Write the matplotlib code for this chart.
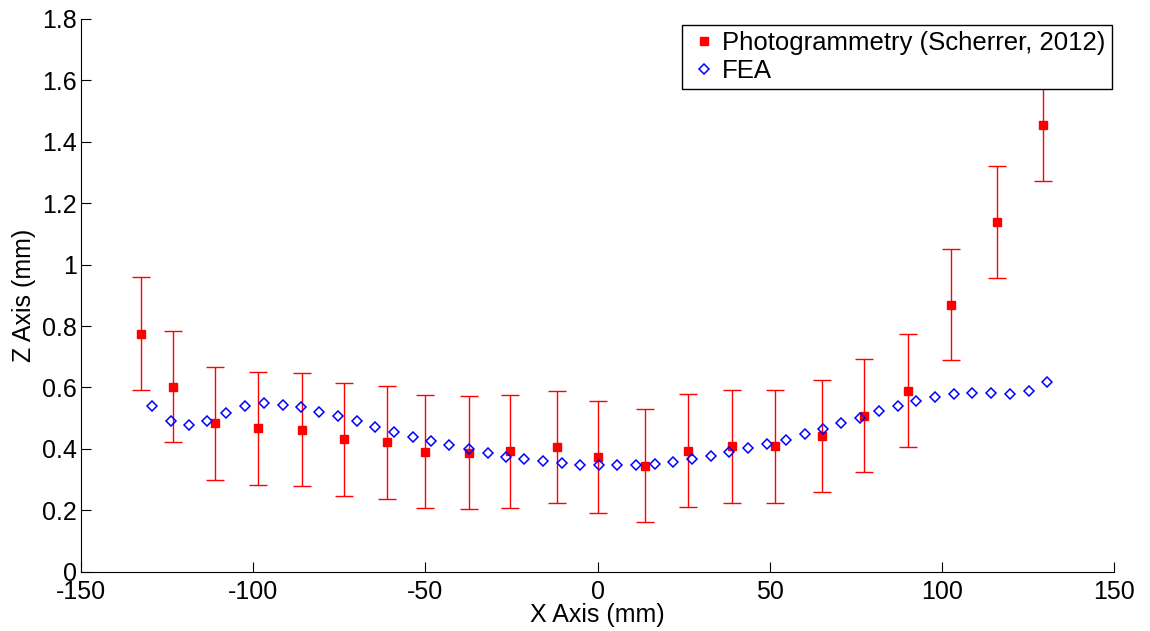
import matplotlib
matplotlib.use("Agg")
from matplotlib import pyplot as plt

# Photogrammetry (Scherrer, 2012): x position, z displacement, error half-width
photo_x = [-132.4, -123.1, -111.0, -98.5, -85.9, -73.6, -61.1, -50.0, -37.2, -25.5, -11.9,
           0.1, 13.7, 26.1, 39.1, 51.4, 65.1, 77.2, 90.0, 102.6, 116.0, 129.3]
photo_z = [0.775, 0.603, 0.483, 0.467, 0.463, 0.431, 0.421, 0.390, 0.388, 0.392, 0.406,
           0.373, 0.345, 0.394, 0.408, 0.408, 0.442, 0.507, 0.590, 0.870, 1.139, 1.454]
photo_err = [0.184, 0.182, 0.183, 0.184, 0.183, 0.183, 0.183, 0.184, 0.183, 0.183, 0.183,
             0.183, 0.184, 0.183, 0.183, 0.183, 0.183, 0.184, 0.184, 0.182, 0.182, 0.182]

# FEA
fea_x = [-129.4, -123.9, -118.6, -113.3, -107.8, -102.3, -96.8, -91.4, -86.2, -80.8,
         -75.2, -69.8, -64.5, -59.2, -53.7, -48.3, -43.0, -37.4, -31.9, -26.7,
         -21.3, -15.8, -10.3, -5.1, 0.4, 5.7, 11.2, 16.7, 22.0, 27.4,
         32.8, 38.2, 43.7, 49.2, 54.6, 60.1, 65.3, 70.7, 76.2, 81.7,
         87.1, 92.5, 98.0, 103.4, 108.7, 114.2, 119.6, 125.1, 130.5]
fea_z = [0.540, 0.492, 0.477, 0.490, 0.516, 0.540, 0.549, 0.544, 0.536, 0.521,
         0.506, 0.490, 0.472, 0.455, 0.440, 0.426, 0.414, 0.400, 0.387, 0.375,
         0.367, 0.360, 0.353, 0.349, 0.347, 0.347, 0.349, 0.352, 0.358, 0.366,
         0.378, 0.389, 0.402, 0.416, 0.430, 0.447, 0.466, 0.483, 0.501, 0.522,
         0.540, 0.556, 0.569, 0.579, 0.581, 0.581, 0.579, 0.587, 0.617]

plt.rcParams['font.family'] = ['Liberation Sans', 'DejaVu Sans']
plt.rcParams['axes.unicode_minus'] = False

fig = plt.figure(figsize=(11.5, 6.31), dpi=100)
ax = fig.add_axes([0.0702, 0.094, 0.8989, 0.876])

# error bars first, then the markers so the legend shows only the square
ax.errorbar(photo_x, photo_z, yerr=photo_err, fmt='none', ecolor='red',
            elinewidth=1, capsize=6.5, capthick=1)
ax.plot(photo_x, photo_z, 's', ls='none', color='red', ms=5.5,
        label='Photogrammetry (Scherrer, 2012)')
ax.plot(fea_x, fea_z, 'D', ls='none', mfc='none', mec='blue', ms=5.5, mew=1.1,
        label='FEA')

ax.set_xlim(-150, 150)
ax.set_ylim(0, 1.8)
ax.set_xticks(range(-150, 151, 50))
ax.set_yticks([0, 0.2, 0.4, 0.6, 0.8, 1, 1.2, 1.4, 1.6, 1.8])
ax.set_yticklabels(['0', '0.2', '0.4', '0.6', '0.8', '1', '1.2', '1.4', '1.6', '1.8'])

ax.spines['top'].set_visible(False)
ax.spines['right'].set_visible(False)
for s in ['left', 'bottom']:
    ax.spines[s].set_linewidth(0.8)
ax.tick_params(direction='in', length=7.5, width=0.8, labelsize=18)
ax.tick_params(axis='x', pad=6)
ax.tick_params(axis='y', pad=3)

ax.set_xlabel('X Axis (mm)', fontsize=18, labelpad=-1)
ax.set_ylabel('Z Axis (mm)', fontsize=18, labelpad=4)

leg = ax.legend(loc='upper right', bbox_to_anchor=(0.9976, 0.9897), fontsize=18.5,
                fancybox=False, edgecolor='black', framealpha=1, borderaxespad=0,
                handletextpad=0.1, handlelength=1.2, borderpad=0.25,
                labelspacing=0.15, numpoints=1)
leg.get_frame().set_linewidth(1.0)
leg.set_zorder(5)

fig.savefig('out.png', dpi=100)
